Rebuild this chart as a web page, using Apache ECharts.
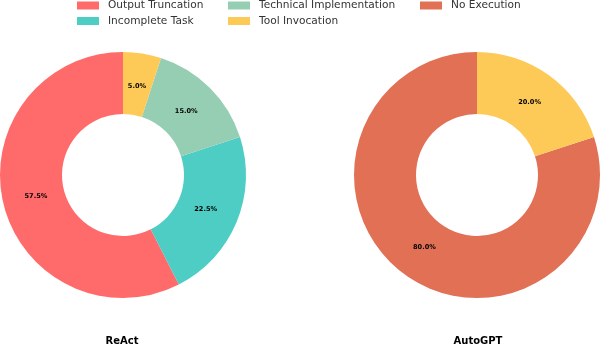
<!DOCTYPE html>
<html><head><meta charset="utf-8">
<script src="https://cdn.jsdelivr.net/npm/echarts@6/dist/echarts.min.js"></script>
<style>html,body{margin:0;padding:0;background:#fff}#c{width:600px;height:345px}</style>
</head><body><div id="c"></div>
<script>
const reactCategories = ['Output Truncation', 'Incomplete Task', 'Technical Implementation', 'Tool Invocation'];
const reactValues = [57.5, 22.5, 15.0, 5.0];
const autogptCategories = ['No Execution', 'Tool Invocation'];
const autogptValues = [80.0, 20.0];
const panelTitles = ['ReAct', 'AutoGPT'];
const colorMap = {
  'Output Truncation': '#FF6B6B',
  'Incomplete Task': '#4ECDC4',
  'Technical Implementation': '#96CEB4',
  'Tool Invocation': '#FECA57',
  'No Execution': '#E17055'
};
const FONT = 'DejaVu Sans';
function mk(cats, vals) { return cats.map((n, i) => ({ name: n, value: vals[i], itemStyle: { color: colorMap[n] } })); }
function mkT(cats, vals) { return cats.map((n, i) => ({ name: n, value: vals[i], itemStyle: { color: 'rgba(0,0,0,0)' } })); }
const centers = [[123, 175], [477, 175]];
function mainSeries(cats, vals, c) {
  return { type: 'pie', center: c, radius: [61, 123], startAngle: 90, clockwise: false, silent: true,
    label: { show: false }, labelLine: { show: false }, data: mk(cats, vals), animation: false };
}
function labelSeries(cats, vals, c) {
  return { type: 'pie', center: c, radius: [61, 112], startAngle: 90, clockwise: false, silent: true,
    legendHoverLink: false,
    label: { show: true, position: 'inside', formatter: p => p.value.toFixed(1) + '%', fontFamily: FONT,
      fontWeight: 'bold', fontSize: 6.6, color: '#000' },
    labelLine: { show: false }, data: mkT(cats, vals), animation: false };
}
const legendItems = [
  ['Output Truncation', 77, 0], ['Technical Implementation', 228, 0], ['No Execution', 420, 0],
  ['Incomplete Task', 77, 15.5], ['Tool Invocation', 228, 15.5]
];
const option = {
  backgroundColor: '#fff',
  animation: false,
  legend: legendItems.map(([n, x, y]) => ({
    data: [n], left: x, top: y, padding: 0, itemWidth: 22, itemHeight: 8, selectedMode: false,
    icon: 'rect',
    textStyle: { fontFamily: FONT, fontSize: 10.6, color: '#333', padding: [0, 0, 0, 4] }
  })),
  series: [
    mainSeries(reactCategories, reactValues, centers[0]),
    mainSeries(autogptCategories, autogptValues, centers[1]),
    labelSeries(reactCategories, reactValues, centers[0]),
    labelSeries(autogptCategories, autogptValues, centers[1])
  ],
  graphic: panelTitles.map((t, i) => ({
    type: 'text', x: [122, 478][i], y: 341,
    style: { text: t, fontFamily: FONT, fontWeight: 'bold', fontSize: 10, fill: '#000',
      textAlign: 'center', textVerticalAlign: 'middle' }
  }))
};
echarts.init(document.getElementById('c'), null, { renderer: 'canvas' }).setOption(option);
</script></body></html>
